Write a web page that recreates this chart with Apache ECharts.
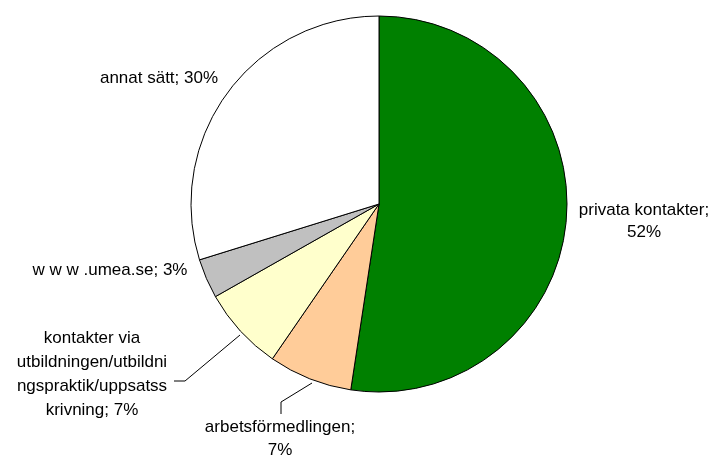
<!DOCTYPE html>
<html>
<head>
<meta charset="utf-8">
<script src="https://cdn.jsdelivr.net/npm/echarts@6/dist/echarts.min.js"></script>
<style>
  html, body { margin: 0; padding: 0; background: #fff; }
</style>
</head>
<body>
<div id="main" style="width: 718px; height: 459px"></div>
<script>
// kategorier och andelar (procent), medurs från kl. 12
var names = [
  'privata kontakter',
  'arbetsförmedlingen',
  'kontakter via utbildningen/utbildningspraktik/uppsatsskrivning',
  'w w w .umea.se',
  'annat sätt'
];
var values = [52.4, 7.2, 7.2, 3.4, 29.8];
var colors = ['#008000', '#FFCC99', '#FFFFCC', '#C0C0C0', '#FFFFFF'];
// etikettstext som i originalet (radbrytningar)
var labelTexts = [
  'privata kontakter;\n52%',
  'arbetsförmedlingen;\n7%',
  'kontakter via\nutbildningen/utbildni\nngspraktik/uppsatss\nkrivning; 7%',
  'w w w .umea.se; 3%',
  'annat sätt; 30%'
];

// var etiketterna ligger
var labelPos = [
  { x: 644, y: 221, lh: 22 },
  { x: 280, y: 439, lh: 23 },
  { x: 92, y: 374, lh: 24 },
  { x: 110, y: 270, lh: 23 },
  { x: 159, y: 78, lh: 23 }
];
var leaderLines = {
  1: [[312, 383], [281, 402], [281, 414]],
  2: [[240, 335], [185, 381], [174, 381]]
};

var myChart = echarts.init(document.getElementById('main'));

var option = {
  backgroundColor: '#fff',
  animation: false,
  series: [
    {
      type: 'pie',
      center: [379, 204],
      radius: 188,
      startAngle: 90,
      clockwise: true,
      avoidLabelOverlap: false,
      itemStyle: { borderColor: '#000', borderWidth: 1 },
      emphasis: { disabled: true },
      label: {
        show: true,
        position: 'outside',
        fontFamily: 'Liberation Sans, Arial, sans-serif',
        fontSize: 17,
        color: '#000',
        align: 'center',
        formatter: function (p) { return labelTexts[p.dataIndex]; }
      },
      labelLine: {
        show: true,
        length: 0,
        length2: 0,
        lineStyle: { color: '#000', width: 1 }
      },
      labelLayout: function (p) {
        var i = p.dataIndex;
        var res = {
          x: labelPos[i].x,
          y: labelPos[i].y,
          align: 'center',
          verticalAlign: 'middle'
        };
        if (leaderLines[i]) {
          res.labelLinePoints = leaderLines[i];
        }
        return res;
      },
      data: names.map(function (n, i) {
        return {
          name: n,
          value: values[i],
          itemStyle: { color: colors[i] },
          label: { lineHeight: labelPos[i].lh },
          labelLine: { show: !!leaderLines[i] }
        };
      })
    }
  ]
};

myChart.setOption(option);
</script>
</body>
</html>
